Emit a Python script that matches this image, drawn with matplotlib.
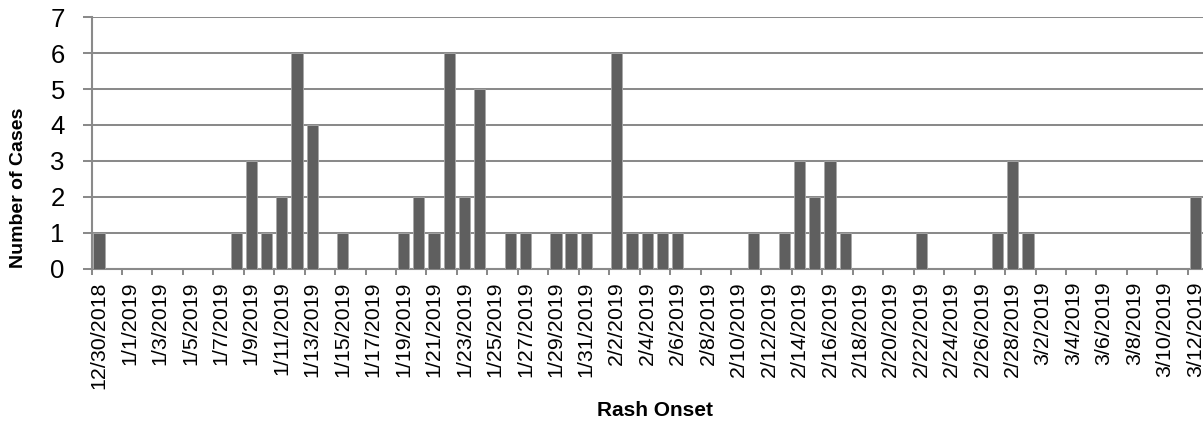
import matplotlib
matplotlib.use("Agg")
import matplotlib.pyplot as plt
import numpy as np

# ---- data ----
dates = [
    "12/30/2018", "12/31/2018",
    "1/1/2019", "1/2/2019", "1/3/2019", "1/4/2019", "1/5/2019", "1/6/2019", "1/7/2019", "1/8/2019",
    "1/9/2019", "1/10/2019", "1/11/2019", "1/12/2019", "1/13/2019", "1/14/2019", "1/15/2019",
    "1/16/2019", "1/17/2019", "1/18/2019", "1/19/2019", "1/20/2019", "1/21/2019", "1/22/2019",
    "1/23/2019", "1/24/2019", "1/25/2019", "1/26/2019", "1/27/2019", "1/28/2019", "1/29/2019",
    "1/30/2019", "1/31/2019",
    "2/1/2019", "2/2/2019", "2/3/2019", "2/4/2019", "2/5/2019", "2/6/2019", "2/7/2019",
    "2/8/2019", "2/9/2019", "2/10/2019", "2/11/2019", "2/12/2019", "2/13/2019", "2/14/2019",
    "2/15/2019", "2/16/2019", "2/17/2019", "2/18/2019", "2/19/2019", "2/20/2019", "2/21/2019",
    "2/22/2019", "2/23/2019", "2/24/2019", "2/25/2019", "2/26/2019", "2/27/2019", "2/28/2019",
    "3/1/2019", "3/2/2019", "3/3/2019", "3/4/2019", "3/5/2019", "3/6/2019", "3/7/2019",
    "3/8/2019", "3/9/2019", "3/10/2019", "3/11/2019", "3/12/2019",
]
cases = [
    1, 0,
    0, 0, 0, 0, 0, 0, 0, 1,
    3, 1, 2, 6, 4, 0, 1,
    0, 0, 0, 1, 2, 1, 6,
    2, 5, 0, 1, 1, 0, 1,
    1, 1,
    0, 6, 1, 1, 1, 1, 0,
    0, 0, 0, 1, 0, 1, 3,
    2, 3, 1, 0, 0, 0, 0,
    1, 0, 0, 0, 0, 1, 3,
    1, 0, 0, 0, 0, 0, 0,
    0, 0, 0, 0, 2,
]
y_ticks = [0, 1, 2, 3, 4, 5, 6, 7]
x_title = "Rash Onset"
y_title = "Number of Cases"

plt.rcParams['font.family'] = ['Liberation Sans', 'DejaVu Sans']

W, H = 1203, 421
fig = plt.figure(figsize=(W / 100, H / 100), dpi=100)
ax = fig.add_axes([91.5 / W, 1 - 268.5 / H, 1 - 91.5 / W, (268.5 - 17.3) / H])

grid_c = '#8a8a8a'
x = np.arange(len(dates))
ax.bar(x, cases, width=0.74, color='#5f5f5f', edgecolor='#a8a8a8', linewidth=0.6, zorder=3)

ax.set_xlim(-0.5, len(dates) - 0.5)
ax.set_ylim(0, 7)
ax.set_yticks(y_ticks)
ax.set_yticklabels([str(v) for v in y_ticks], fontsize=18.5)
ax.yaxis.grid(True, color=grid_c, linewidth=1.45, zorder=0)
ax.set_axisbelow(True)

# labels on even categories, tick marks on category boundaries every 2 days
ax.set_xticks(x[::2])
ax.set_xticklabels(dates[::2], rotation=90, fontsize=15.4, va='top', ha='center')
ax.tick_params(axis='x', which='major', length=0, pad=9.5)
ax.set_xticks(np.arange(-0.5, len(dates) - 0.5, 2), minor=True)
ax.tick_params(axis='x', which='minor', length=4, width=1.45, color=grid_c)
ax.tick_params(axis='y', length=6.5, width=1.45, color=grid_c, pad=12.7)

for s in ['top', 'right']:
    ax.spines[s].set_visible(False)
for s in ['left', 'bottom']:
    ax.spines[s].set_color(grid_c)
    ax.spines[s].set_linewidth(1.5)

fig.text(655 / W, 1 - 411 / H, x_title, fontsize=15, fontweight='bold', ha='center', va='center')
fig.text(18.5 / W, 1 - 188 / H, y_title, fontsize=14, fontweight='bold', ha='center', va='center', rotation=90)

fig.savefig('out.png', dpi=100)
